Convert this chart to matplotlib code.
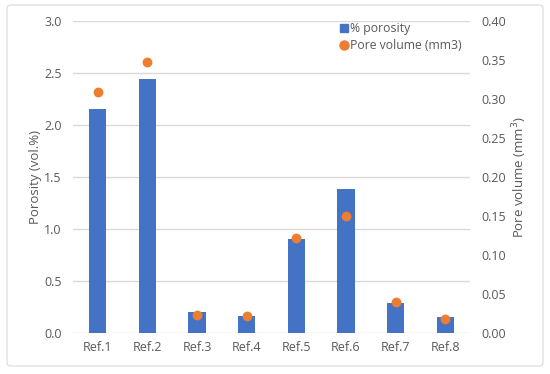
import numpy as np
import matplotlib.pyplot as plt
import matplotlib.lines as ml
from matplotlib.patches import FancyBboxPatch

plt.rcParams['font.family'] = ['Open Sans', 'DejaVu Sans']

refs = ['Ref.1', 'Ref.2', 'Ref.3', 'Ref.4', 'Ref.5', 'Ref.6', 'Ref.7', 'Ref.8']
porosity = [2.15, 2.44, 0.196, 0.158, 0.904, 1.38, 0.286, 0.151]
pore_volume = [0.308, 0.347, 0.023, 0.021, 0.121, 0.150, 0.039, 0.018]

BLUE = '#4472C4'
ORANGE = '#ED7D31'
GRID = '#D9D9D9'
TXT = '#595959'

fig = plt.figure(figsize=(5.5, 3.74), dpi=100)
border = FancyBboxPatch((7 / 550, 8 / 374), 536 / 550, 361 / 374,
                        boxstyle='round,pad=0,rounding_size=0.008',
                        transform=fig.transFigure, fc='white', ec='#D9D9D9', lw=0.8, zorder=-5)
fig.patches.append(border)
ax = fig.add_axes([73 / 550, (374 - 332.7) / 374, 397 / 550, 312 / 374])
ax.patch.set_visible(False)
ax2 = ax.twinx()

x = np.arange(len(refs))
ax.bar(x, porosity, width=0.35, color=BLUE, zorder=2)
ax2.scatter(x, pore_volume, s=50, color=ORANGE, zorder=3, linewidths=0)

ax.set_xlim(-0.5, len(refs) - 0.5)
ax.set_ylim(0, 3.0)
ax.set_yticks(np.arange(0, 3.01, 0.5))
ax.set_yticklabels([f'{v:.1f}' for v in np.arange(0, 3.01, 0.5)])
ax2.set_ylim(0, 0.40)
ax2.set_yticks(np.arange(0, 0.401, 0.05))
ax2.set_yticklabels([f'{v:.2f}' for v in np.arange(0, 0.401, 0.05)])
ax.set_xticks(x)
ax.set_xticklabels(refs)

for a in (ax, ax2):
    for s in a.spines.values():
        s.set_visible(False)
    a.tick_params(length=0, labelsize=9, colors=TXT, pad=8)
ax.yaxis.grid(True, color=GRID, lw=1, zorder=0)
ax.set_axisbelow(True)
ax.tick_params(axis='x', pad=6)

ax.set_ylabel('Porosity (vol.%)', fontsize=9.5, color=TXT, labelpad=2)
ax2.set_ylabel('Pore volume (mm$^3$)', fontsize=9.5, color=TXT, labelpad=3)

h = [ml.Line2D([], [], lw=0, marker='s', ms=5.5, color=BLUE, label='% porosity'),
     ml.Line2D([], [], lw=0, marker='o', ms=6.5, color=ORANGE, label='Pore volume (mm3)')]
leg = ax.legend(handles=h, loc='upper right', bbox_to_anchor=(0.995, 1.016), frameon=False,
                fontsize=8.8, handlelength=0.6, handletextpad=0.2, labelspacing=0.35,
                borderaxespad=0.1)
for t in leg.get_texts():
    t.set_color(TXT)

fig.savefig('out.png', dpi=100)
